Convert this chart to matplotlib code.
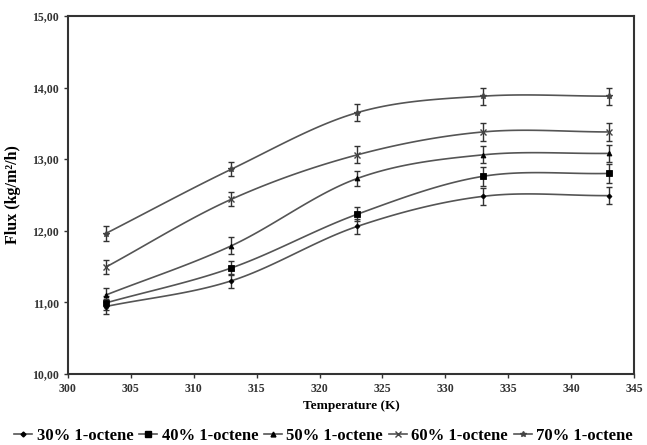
import numpy as np
import matplotlib
matplotlib.use("Agg")
import matplotlib.pyplot as plt
from matplotlib.ticker import FuncFormatter

temperature = [303, 313, 323, 333, 343]
flux_30 = [10.94, 11.30, 12.06, 12.48, 12.49]
flux_40 = [10.99, 11.48, 12.23, 12.76, 12.80]
flux_50 = [11.10, 11.79, 12.73, 13.06, 13.08]
flux_60 = [11.49, 12.44, 13.06, 13.38, 13.38]
flux_70 = [11.96, 12.86, 13.65, 13.88, 13.88]
err_30 = [0.10, 0.10, 0.11, 0.12, 0.12]
err_40 = [0.10, 0.10, 0.10, 0.13, 0.13]
err_50 = [0.10, 0.12, 0.10, 0.12, 0.12]
err_60 = [0.10, 0.10, 0.12, 0.12, 0.12]
err_70 = [0.10, 0.10, 0.12, 0.12, 0.12]
labels = ["30% 1-octene", "40% 1-octene", "50% 1-octene", "60% 1-octene", "70% 1-octene"]

series = [flux_30, flux_40, flux_50, flux_60, flux_70]
errors = [err_30, err_40, err_50, err_60, err_70]
markers = ["D", "s", "^", "x", "*"]
msizes = [2.5, 4, 3.5, 4, 4]
mcols = ["black", "black", "black", "#444444", "#444444"]

plt.rcParams['font.family'] = ['Liberation Serif', 'DejaVu Serif']
plt.rcParams['font.weight'] = 'bold'

def smooth(x, y, n=30):
    # Catmull-Rom spline through data points (display only)
    x = np.asarray(x, float); y = np.asarray(y, float)
    px = np.concatenate([[2*x[0]-x[1]], x, [2*x[-1]-x[-2]]])
    py = np.concatenate([[2*y[0]-y[1]], y, [2*y[-1]-y[-2]]])
    xs, ys = [], []
    t = np.linspace(0, 1, n)
    for i in range(1, len(px)-2):
        p0, p1, p2, p3 = [np.array([px[j], py[j]]) for j in (i-1, i, i+1, i+2)]
        pts = 0.5*((2*p1)[None, :] + np.outer(t, -p0+p2) + np.outer(t**2, 2*p0-5*p1+4*p2-p3)
                   + np.outer(t**3, -p0+3*p1-3*p2+p3))
        xs.extend(pts[:, 0]); ys.extend(pts[:, 1])
    return np.array(xs), np.array(ys)

fig = plt.figure(figsize=(6.47, 4.45), dpi=100)
ax = fig.add_axes([0.105, 0.160, 0.875, 0.804])

line_col = "#555555"
handles = []
for y, e, m, ms, mc, lab in zip(series, errors, markers, msizes, mcols, labels):
    sx, sy = smooth(temperature, y)
    ax.plot(sx, sy, color=line_col, lw=1.2, zorder=2)
    ax.errorbar(temperature, y, yerr=e, fmt="none", ecolor="#333333", elinewidth=1.0,
                capsize=2.5, capthick=1.0, zorder=3)
    ax.plot(temperature, y, linestyle="none", marker=m, color=mc, ms=ms,
            mew=1.0 if m in ("x", "*") else 0.6, zorder=4)
    h, = ax.plot([], [], color=line_col, lw=1.2, marker=m, mfc=mc, mec=mc, ms=ms)
    handles.append(h)

ax.set_xlim(300, 345)
ax.set_ylim(10, 15)
ax.set_xticks(np.arange(300, 346, 5))
ax.set_yticks(np.arange(10, 15.01, 1))
ax.yaxis.set_major_formatter(FuncFormatter(lambda v, p: f"{v:.2f}".replace(".", ",")))
ax.tick_params(axis="both", labelsize=8.5, direction="out", length=3, width=1, colors="#333333")
for lab in ax.get_xticklabels() + ax.get_yticklabels():
    lab.set_fontweight("bold")
for s in ax.spines.values():
    s.set_linewidth(1.5)
    s.set_color("#333333")

ax.set_xlabel("Temperature (K)", fontsize=9.5, fontweight="bold", labelpad=4)
ax.set_ylabel("Flux (kg/m²/h)", fontsize=11.5, fontweight="bold", labelpad=8)

fig.legend(handles, labels, loc="center", bbox_to_anchor=(0.5, 9 / 445), ncol=5,
           frameon=False, handlelength=1.1, handletextpad=0.25, columnspacing=0.35,
           borderpad=0.0, borderaxespad=0.0,
           prop={"weight": "bold", "size": 12})

fig.savefig("out.png", dpi=100)
